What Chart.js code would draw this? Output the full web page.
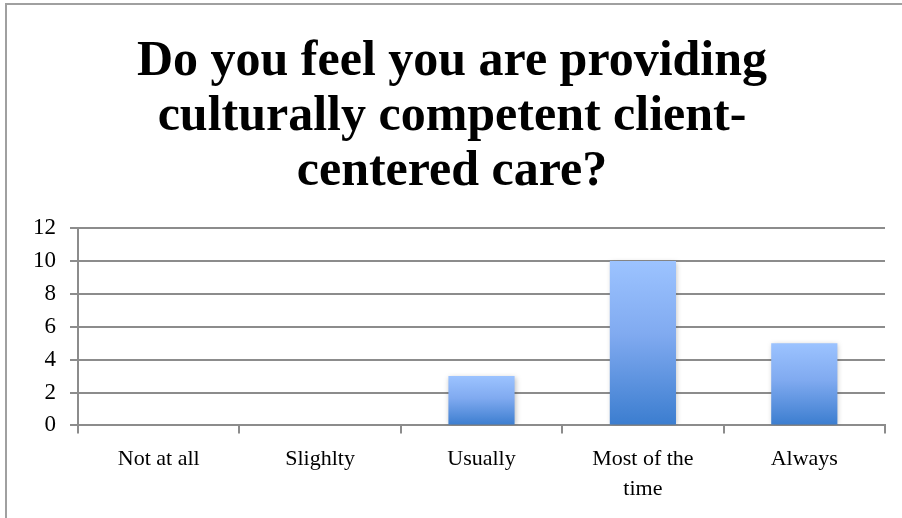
<!DOCTYPE html>
<html>
<head>
<meta charset="utf-8">
<script src="https://cdn.jsdelivr.net/npm/chart.js@4"></script>
<style>
  body { margin: 0; background: #fff; }
  .wrap {
    position: absolute; left: 5px; top: 3px;
    width: 897px; height: 515px;
    border-left: 2px solid #a0a0a0; border-top: 2px solid #a0a0a0;
  }
</style>
</head>
<body>
<div class="wrap"><canvas id="careChart"></canvas></div>
<script>
const categories = ['Not at all', 'Slighlty', 'Usually', ['Most of the', 'time'], 'Always']
const responses = [0, 0, 3, 10, 5]
const yTicks = [0, 2, 4, 6, 8, 10, 12]

const serif = "'Liberation Serif', 'DejaVu Serif', serif"

// each bar fades from light blue on top to darker blue at the base
function barGradient(context) {
  const chart = context.chart
  const y = chart.scales.y
  if (!y || context.raw === undefined) return '#6a9de8'
  const top = y.getPixelForValue(context.raw)
  const bottom = y.getPixelForValue(0)
  if (!isFinite(top) || !isFinite(bottom) || top === bottom) return '#6a9de8'
  const g = chart.ctx.createLinearGradient(0, top, 0, bottom)
  g.addColorStop(0, '#9cc3ff')
  g.addColorStop(0.45, '#80aaf0')
  g.addColorStop(1, '#3b7dcf')
  return g
}

const shadowPlugin = {
  id: 'barShadow',
  beforeDatasetsDraw(chart) {
    const c = chart.ctx
    c.save()
    c.shadowColor = 'rgba(0,0,0,0.25)'
    c.shadowBlur = 5
    c.shadowOffsetX = 1
    c.shadowOffsetY = 1
  },
  afterDatasetsDraw(chart) {
    chart.ctx.restore()
  }
}

new Chart(document.getElementById('careChart'), {
  type: 'bar',
  data: {
    labels: categories,
    datasets: [{
      data: responses,
      backgroundColor: barGradient,
      categoryPercentage: 0.82,
      barPercentage: 0.5
    }]
  },
  plugins: [shadowPlugin],
  options: {
    responsive: true,
    maintainAspectRatio: false,
    animation: false,
    layout: { padding: { left: 12, right: 19, top: 0, bottom: 5 } },
    plugins: {
      legend: { display: false },
      tooltip: { enabled: false },
      title: {
        display: true,
        text: ['Do you feel you are providing', 'culturally competent client-', 'centered care?'],
        color: '#000',
        font: { family: serif, size: 50, weight: 'bold', lineHeight: 1.1 },
        padding: { top: 30, bottom: 28 }
      }
    },
    scales: {
      x: {
        grid: {
          offset: true,
          drawOnChartArea: false,
          color: '#8c8c8c',
          lineWidth: 2,
          tickLength: 8
        },
        border: { color: '#8c8c8c', width: 2 },
        ticks: {
          color: '#000',
          font: { family: serif, size: 22, lineHeight: 1.4 },
          padding: 10,
          maxRotation: 0
        }
      },
      y: {
        min: 0,
        max: 12,
        afterBuildTicks(scale) { scale.ticks = yTicks.map(v => ({ value: v })) },
        grid: {
          color: '#8c8c8c',
          lineWidth: 2,
          tickLength: 8
        },
        border: { color: '#8c8c8c', width: 2 },
        ticks: {
          color: '#000',
          font: { family: serif, size: 23 },
          padding: 14
        }
      }
    }
  }
})
</script>
</body>
</html>
